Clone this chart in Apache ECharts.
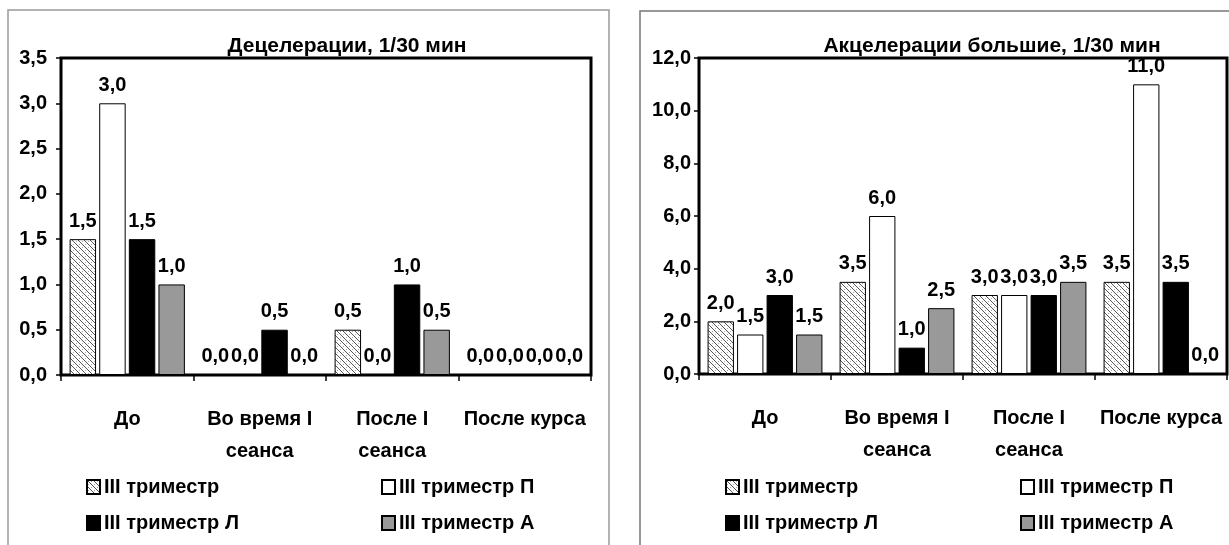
<!DOCTYPE html>
<html><head><meta charset="utf-8">
<script src="https://cdn.jsdelivr.net/npm/echarts@6/dist/echarts.min.js"></script>
<style>html,body{margin:0;padding:0;background:#fff}#c{width:1229px;height:545px}</style>
</head><body><div id="c"></div>
<script>
const categories = ['До', 'Во время I\nсеанса', 'После I\nсеанса', 'После курса'];
const seriesNames = ['III триместр', 'III триместр П', 'III триместр Л', 'III триместр А'];
const titleLeft = 'Децелерации, 1/30 мин';
const titleRight = 'Акцелерации большие, 1/30 мин';
// Left chart: decelerations
const decelT = [1.5, 0.0, 0.5, 0.0];
const decelP = [3.0, 0.0, 0.0, 0.0];
const decelL = [1.5, 0.5, 1.0, 0.0];
const decelA = [1.0, 0.0, 0.5, 0.0];
// Right chart: large accelerations
const accelT = [2.0, 3.5, 3.0, 3.5];
const accelP = [1.5, 6.0, 3.0, 11.0];
const accelL = [3.0, 1.0, 3.0, 3.5];
const accelA = [1.5, 2.5, 3.5, 0.0];
const leftAxis = {min: 0, max: 3.5, interval: 0.5};
const rightAxis = {min: 0, max: 12, interval: 2};

const FONT = '"Liberation Sans", Arial, sans-serif';
const FS = 20;
function fmt(v){ return Number(v).toFixed(1).replace('.', ','); }

// hatch pattern
const pc = document.createElement('canvas');
pc.width = 6; pc.height = 6;
const px = pc.getContext('2d');
px.fillStyle = '#fff'; px.fillRect(0,0,6,6);
px.fillStyle = '#aaa';
px.fillRect(4,1,1,1); px.fillRect(1,4,1,1);
px.strokeStyle = '#555'; px.lineWidth = 1;
px.beginPath(); px.moveTo(-1,-1); px.lineTo(7,7); px.stroke();
px.beginPath(); px.moveTo(-1,5); px.lineTo(1,7); px.stroke();
px.beginPath(); px.moveTo(5,-1); px.lineTo(7,1); px.stroke();
const pattern = {image: pc, repeat: 'repeat'};

const fills = [pattern, '#ffffff', '#000000', '#999999'];

const chart = echarts.init(document.getElementById('c'), null, {renderer: 'canvas'});

function mkSeries(arrs, idx){
  return arrs.map((d, i) => ({
    name: seriesNames[i], type: 'bar', xAxisIndex: idx, yAxisIndex: idx, data: d,
    barCategoryGap: '13%', barGap: '12%',
    itemStyle: {color: fills[i], borderColor: '#000', borderWidth: 1},
    label: {show: true, position: 'top', distance: 8, color: '#000', fontFamily: FONT,
      fontWeight: 'bold', fontSize: FS, formatter: p => fmt(p.value)},
    emphasis: {disabled: true}
  }));
}

function xAx(gi){
  return {type: 'category', gridIndex: gi, data: categories,
    axisLine: {show: true, lineStyle: {color: '#000', width: 2}},
    axisTick: {show: true, alignWithLabel: false, length: 6, inside: false, lineStyle: {color: '#000', width: 1.5}},
    axisLabel: {color: '#000', fontFamily: FONT, fontWeight: 'bold', fontSize: FS, margin: 28, lineHeight: 32, interval: 0},
    splitLine: {show: false}};
}
function yAx(gi, a, margin){
  return {type: 'value', gridIndex: gi, min: a.min, max: a.max, interval: a.interval,
    axisLine: {show: true, lineStyle: {color: '#000', width: 2}},
    axisTick: {show: true, length: 5, lineStyle: {color: '#000', width: 1.5}},
    axisLabel: {color: '#000', fontFamily: FONT, fontWeight: 'bold', fontSize: FS, margin: margin, formatter: v => fmt(v)},
    splitLine: {show: false}};
}
function legends(x1, x2){
  const common = {orient: 'vertical', top: 477, itemWidth: 13, itemHeight: 14, itemGap: 16,
    icon: 'rect', textStyle: {color: '#000', fontFamily: FONT, fontWeight: 'bold', fontSize: FS, padding: [0,0,0,-1]},
    selectedMode: false, padding: 0};
  return [
    Object.assign({}, common, {left: x1, data: [seriesNames[0], seriesNames[2]]}),
    Object.assign({}, common, {left: x2, data: [seriesNames[1], seriesNames[3]]})
  ];
}

chart.setOption({
  animation: false,
  backgroundColor: '#fff',
  title: [
    {text: titleLeft, left: 342, top: 31, textAlign: 'center', textStyle: {color: '#000', fontFamily: FONT, fontWeight: 'bold', fontSize: 21}},
    {text: titleRight, left: 987, top: 31, textAlign: 'center', textStyle: {color: '#000', fontFamily: FONT, fontWeight: 'bold', fontSize: 21}}
  ],
  legend: legends(86, 381).concat(legends(725, 1020)),
  grid: [
    {left: 61, top: 58, width: 530, height: 317, show: true, borderColor: '#000', borderWidth: 3, backgroundColor: 'transparent', containLabel: false},
    {left: 699, top: 58, width: 528, height: 316, show: true, borderColor: '#000', borderWidth: 3, backgroundColor: 'transparent', containLabel: false}
  ],
  xAxis: [xAx(0), xAx(1)],
  yAxis: [yAx(0, leftAxis, 14), yAx(1, rightAxis, 8)],
  series: mkSeries([decelT, decelP, decelL, decelA], 0).concat(mkSeries([accelT, accelP, accelL, accelA], 1)),
  graphic: [
    {type: 'rect', shape: {x: 8, y: 10, width: 601, height: 600}, style: {fill: 'none', stroke: '#999', lineWidth: 1.5}, z: -1},
    {type: 'rect', shape: {x: 640, y: 11, width: 620, height: 600}, style: {fill: 'none', stroke: '#777', lineWidth: 1.5}, z: -1}
  ]
});
</script></body></html>
